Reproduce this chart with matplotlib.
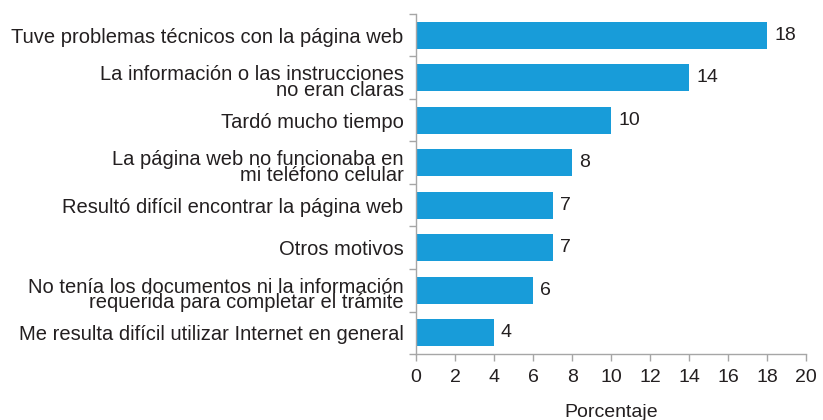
import numpy as np
import matplotlib.pyplot as plt
from matplotlib.transforms import ScaledTranslation

plt.rcParams['font.family'] = ['Liberation Sans', 'DejaVu Sans']

motivos = [
    'Tuve problemas técnicos con la página web',
    'La información o las instrucciones\nno eran claras',
    'Tardó mucho tiempo',
    'La página web no funcionaba en\nmi teléfono celular',
    'Resultó difícil encontrar la página web',
    'Otros motivos',
    'No tenía los documentos ni la información\nrequerida para completar el trámite',
    'Me resulta difícil utilizar Internet en general',
]
porcentajes = [18, 14, 10, 8, 7, 7, 6, 4]
xticks = list(range(0, 21, 2))

azul = '#189cd9'
texto = '#231f20'
gris = '#a6a6a6'
fs = 14.5

fig = plt.figure(figsize=(8.23, 4.20), dpi=100)
ax = fig.add_axes([0.5055, 0.157, 0.9795 - 0.5055, 0.967 - 0.157])

y = np.arange(len(motivos))
ax.barh(y, porcentajes, height=0.64, color=azul)
for yi, v in zip(y, porcentajes):
    ax.annotate(f'{v}', (v, yi), xytext=(5, 0), textcoords='offset points',
                va='center', ha='left', fontsize=14, color=texto)

ax.set_xlim(0, 20)
ax.set_ylim(len(motivos) - 0.5, -0.5)
ax.set_xticks(xticks)
ax.set_xticklabels([str(t) for t in xticks], fontsize=14, color=texto)

# marcas en los límites entre categorías, etiquetas en el centro
ax.set_yticks(np.arange(-0.5, len(motivos), 1.0))
ax.set_yticklabels([])
ax.set_yticks(y, minor=True)
ax.set_yticklabels(motivos, minor=True, fontsize=fs, color=texto, linespacing=0.78)
ax.tick_params(axis='y', which='minor', length=0, pad=9)
ax.tick_params(axis='y', which='major', length=5, width=1, color=gris)
ax.tick_params(axis='x', length=5, width=1, color=gris, pad=6)

# las etiquetas de dos líneas van con la primera línea a la altura de la barra
for lab in ax.get_yticklabels(minor=True):
    if '\n' in lab.get_text():
        lab.set_va('top')
        lab.set_transform(lab.get_transform() + ScaledTranslation(0, 0.62 * fs / 72, fig.dpi_scale_trans))

for side in ['top', 'right']:
    ax.spines[side].set_visible(False)
for side in ['left', 'bottom']:
    ax.spines[side].set_color(gris)
    ax.spines[side].set_linewidth(1)

ax.set_xlabel('Porcentaje', fontsize=14, color=texto, labelpad=13)

fig.savefig('out.png', dpi=100)
